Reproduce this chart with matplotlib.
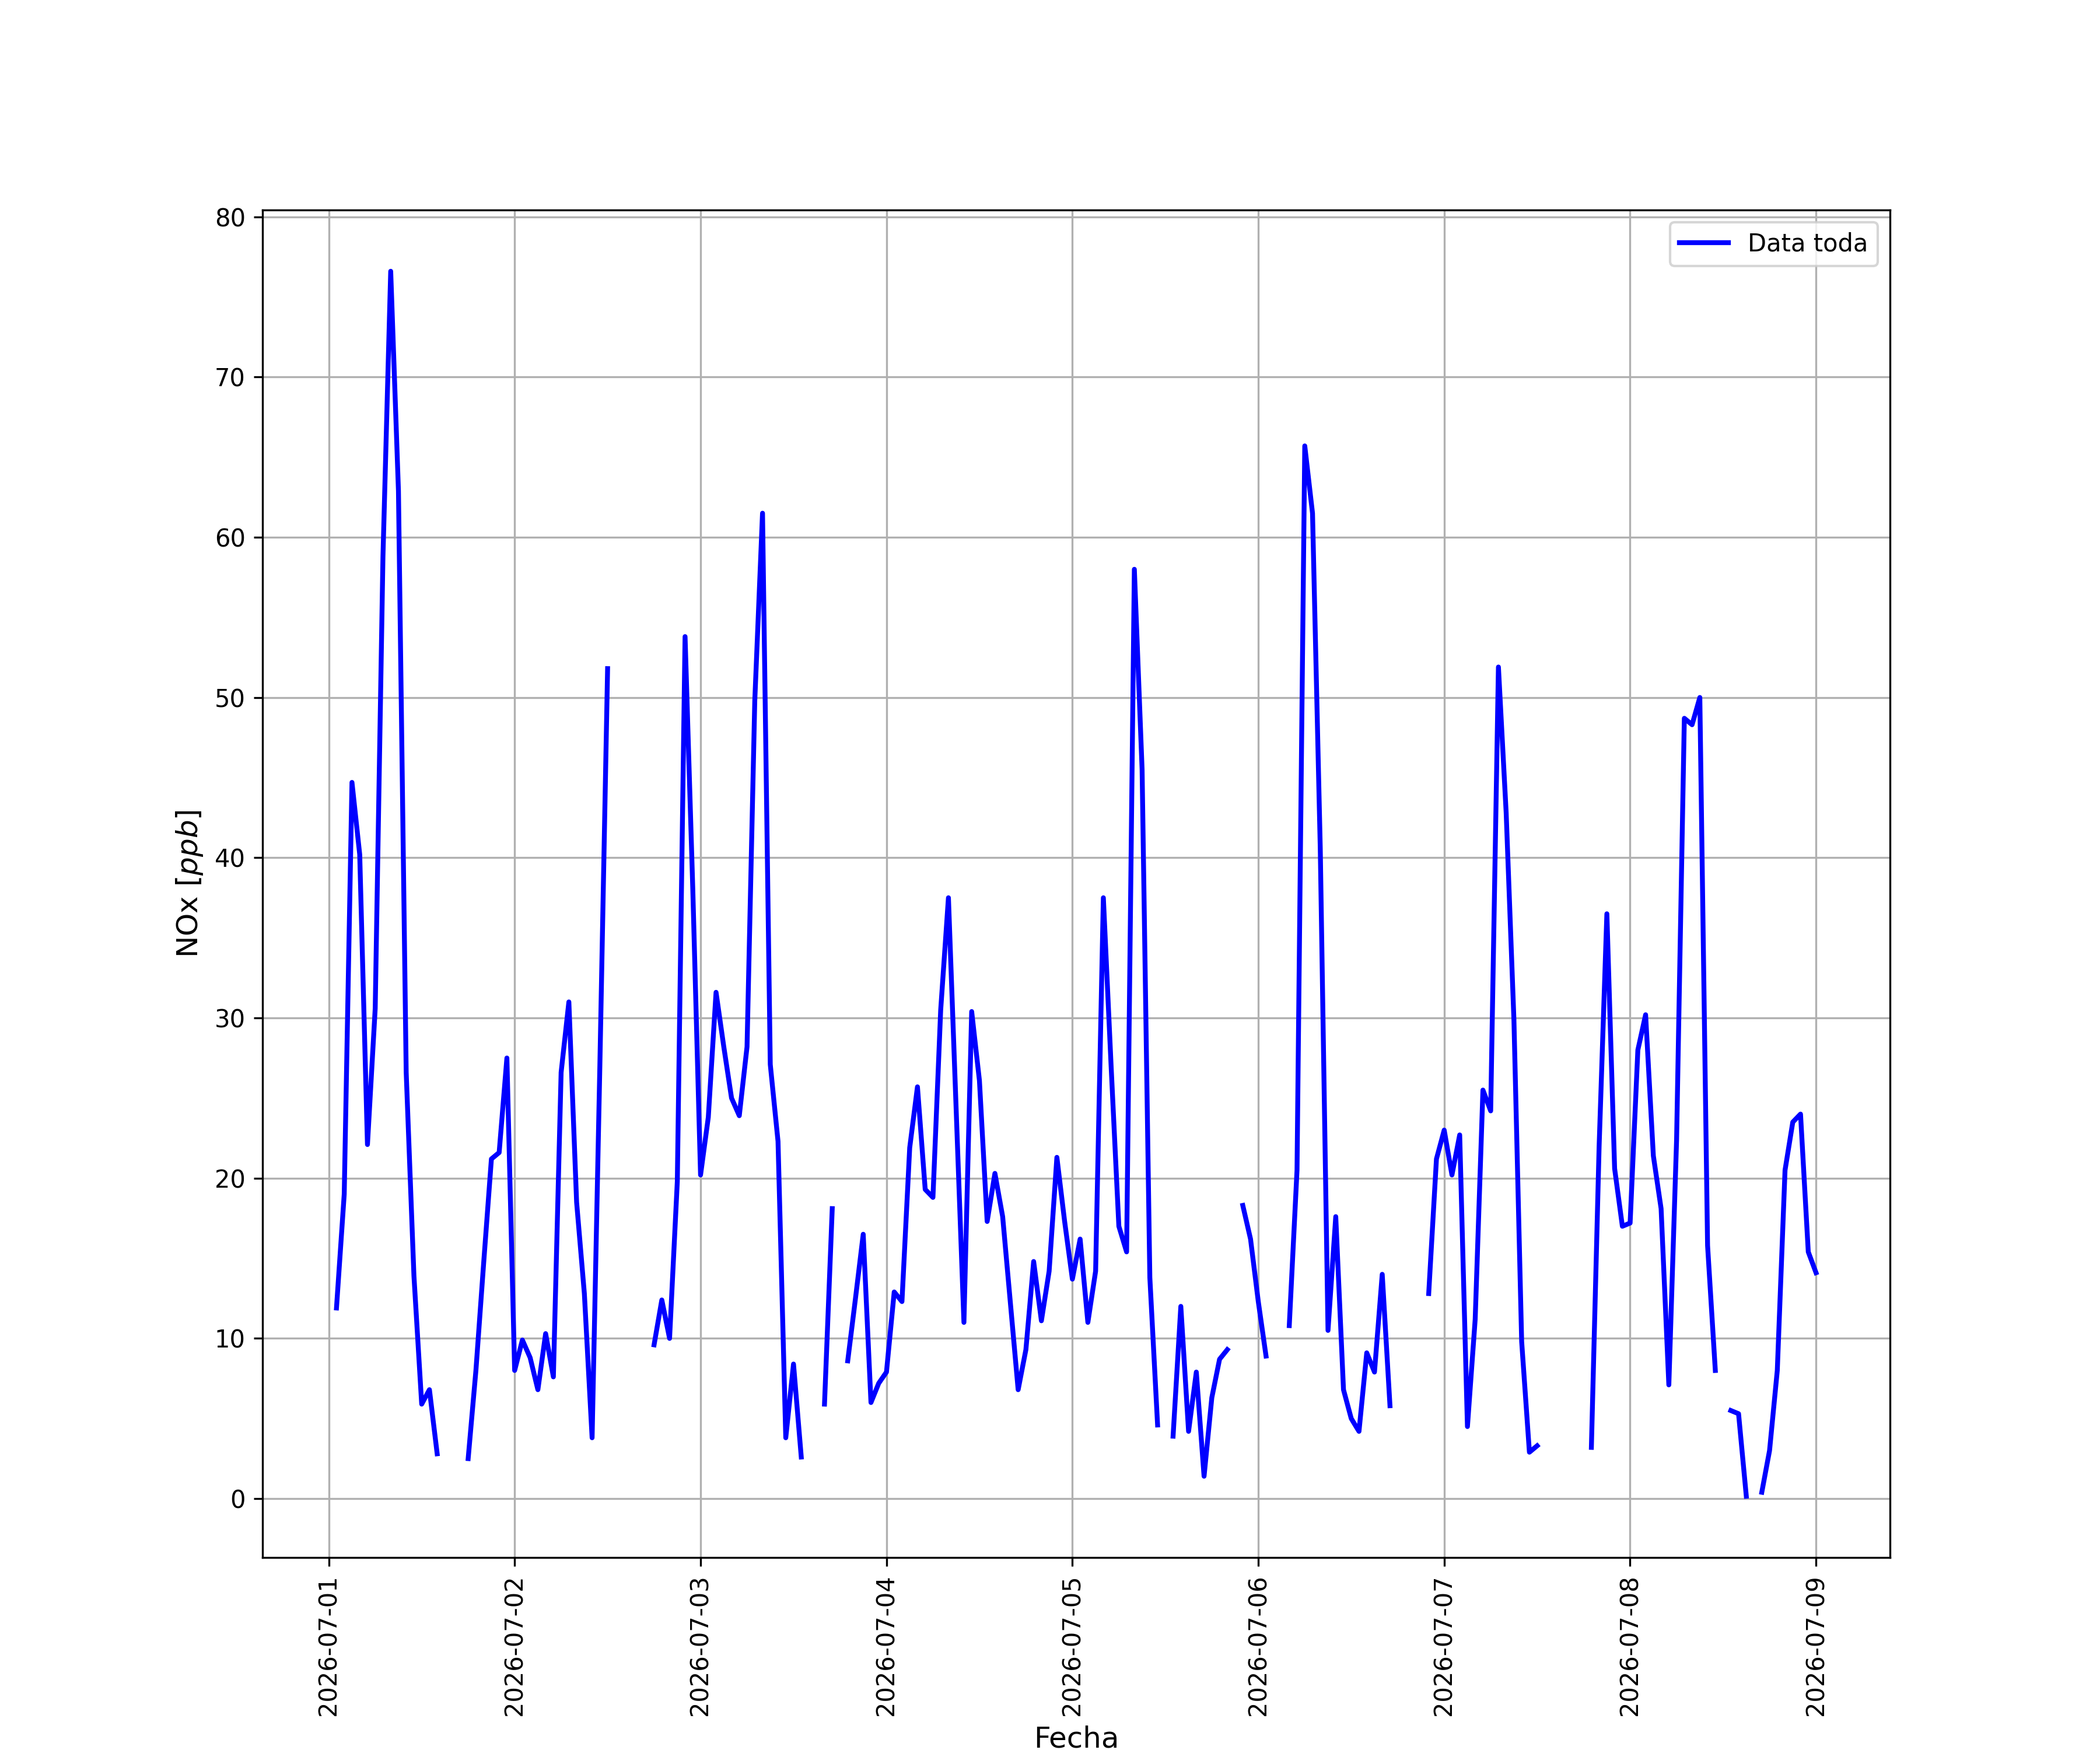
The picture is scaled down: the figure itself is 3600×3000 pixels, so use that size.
import numpy as np
import pandas as pd
import matplotlib
matplotlib.use("Agg")
import matplotlib.pyplot as plt
import matplotlib.dates as mdates

nan = np.nan
# valores horarios de NOx (ppb), de 01:00 a 00:00 del dia siguiente
dia1 = [11.9, 19.0, 44.7, 40.2, 22.1, 30.6, 58.8, 76.6, 62.9, 26.6, 13.9, 5.9,
        6.8, 2.8, nan, nan, nan, 2.5, 8.0, 14.7, 21.2, 21.6, 27.5, 8.0]
dia2 = [9.9, 8.8, 6.8, 10.3, 7.6, 26.6, 31.0, 18.5, 12.8, 3.8, 27.0, 51.8,
        nan, nan, nan, nan, nan, 9.6, 12.4, 10.0, 19.8, 53.8, 38.0, 20.2]
dia3 = [23.8, 31.6, 28.2, 25.0, 23.9, 28.2, 49.8, 61.5, 27.1, 22.3, 3.8, 8.4,
        2.6, nan, nan, 5.9, 18.1, nan, 8.6, 12.5, 16.5, 6.0, 7.2, 7.9]
dia4 = [12.9, 12.3, 21.9, 25.7, 19.3, 18.8, 30.5, 37.5, 24.3, 11.0, 30.4, 26.1,
        17.3, 20.3, 17.6, 12.2, 6.8, 9.3, 14.8, 11.1, 14.2, 21.3, 17.3, 13.7]
dia5 = [16.2, 11.0, 14.2, 37.5, 27.0, 17.0, 15.4, 58.0, 45.5, 13.8, 4.6, nan,
        3.9, 12.0, 4.2, 7.9, 1.4, 6.3, 8.7, 9.3, nan, 18.3, 16.2, 12.3]
dia6 = [8.9, nan, nan, 10.8, 20.5, 65.7, 61.5, 40.6, 10.5, 17.6, 6.8, 5.0,
        4.2, 9.1, 7.9, 14.0, 5.8, nan, nan, nan, nan, 12.8, 21.2, 23.0]
dia7 = [20.2, 22.7, 4.5, 11.2, 25.5, 24.2, 51.9, 42.8, 29.9, 9.8, 2.9, 3.3,
        nan, nan, nan, nan, nan, nan, 3.2, 22.0, 36.5, 20.6, 17.0, 17.2]
dia8 = [28.0, 30.2, 21.4, 18.1, 7.1, 22.4, 48.7, 48.3, 50.0, 15.8, 8.0, nan,
        5.5, 5.3, 0.15, nan, 0.4, 3.0, 8.0, 20.5, 23.5, 24.0, 15.4, 14.1]

nox = np.array(dia1 + dia2 + dia3 + dia4 + dia5 + dia6 + dia7 + dia8)
fechas = pd.date_range("2026-07-01 01:00", periods=len(nox), freq="h")

fig = plt.figure(figsize=(12, 10))
ax = fig.add_subplot(111)
ax.plot(fechas, nox, color="blue", linewidth=2, label="Data toda")

ax.xaxis.set_major_locator(mdates.DayLocator())
ax.xaxis.set_major_formatter(mdates.DateFormatter("%Y-%m-%d"))
plt.xticks(rotation=90)
ax.set_xlabel("Fecha", fontsize=12)
ax.set_ylabel("NOx [$ppb$]", fontsize=12)
ax.grid(True)
ax.legend(loc="upper right")

plt.savefig("out.png", dpi=300)
